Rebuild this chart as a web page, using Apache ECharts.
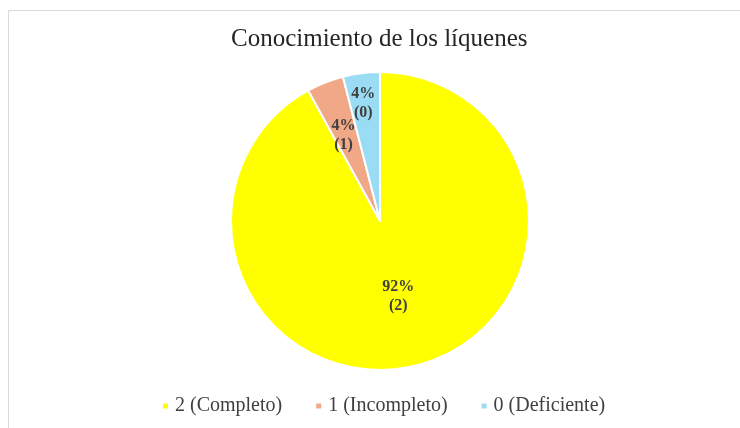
<!DOCTYPE html>
<html><head><meta charset="utf-8">
<script src="https://cdn.jsdelivr.net/npm/echarts@6/dist/echarts.min.js"></script>
<style>html,body{margin:0;padding:0;background:#fff}#c{width:740px;height:428px}</style>
</head><body><div id="c"></div>
<script>
const categories = ['2 (Completo)', '1 (Incompleto)', '0 (Deficiente)'];
const codes = ['2', '1', '0'];
const values = [23, 1, 1];
const colors = ['#FFFF00', '#F1A886', '#99DCF4'];
const titleText = 'Conocimiento de los líquenes';

const chart = echarts.init(document.getElementById('c'));
const data = categories.map((c, i) => ({ name: c, value: values[i], code: codes[i], itemStyle: { color: colors[i] } }));
const labelShift = [[-1, 0], [-8, -14], [-7, -41]];
chart.setOption({
  animation: false,
  graphic: [{
    type: 'polyline', shape: { points: [[8.5, 440], [8.5, 10.5], [750, 10.5]] },
    style: { stroke: '#d9d9d9', lineWidth: 1, fill: null }
  }],
  title: {
    text: titleText, left: 226, top: 22,
    textStyle: { fontFamily: 'Liberation Serif', fontSize: 25, fontWeight: 'normal', color: '#262626' }
  },
  legend: {
    bottom: 7, left: 156, itemWidth: 7, itemHeight: 7, itemGap: 32, icon: 'rect',
    textStyle: { fontFamily: 'Liberation Serif', fontSize: 20, color: '#404040', padding: [0, 0, 0, 1] },
    data: categories
  },
  series: [{
    type: 'pie', center: [380, 221], radius: [0, 149], startAngle: 90, clockwise: true,
    itemStyle: { borderColor: '#ffffff', borderWidth: 2 },
    label: {
      show: true, position: 'inside', lineHeight: 19,
      fontFamily: 'Liberation Serif', fontSize: 16, fontWeight: 'bold', color: '#404040',
      formatter: p => Math.round(p.percent) + '%\n(' + p.data.code + ')'
    },
    labelLayout: p => ({ dx: labelShift[p.dataIndex][0], dy: labelShift[p.dataIndex][1] }),
    emphasis: { disabled: true },
    data: data
  }]
});
</script></body></html>
